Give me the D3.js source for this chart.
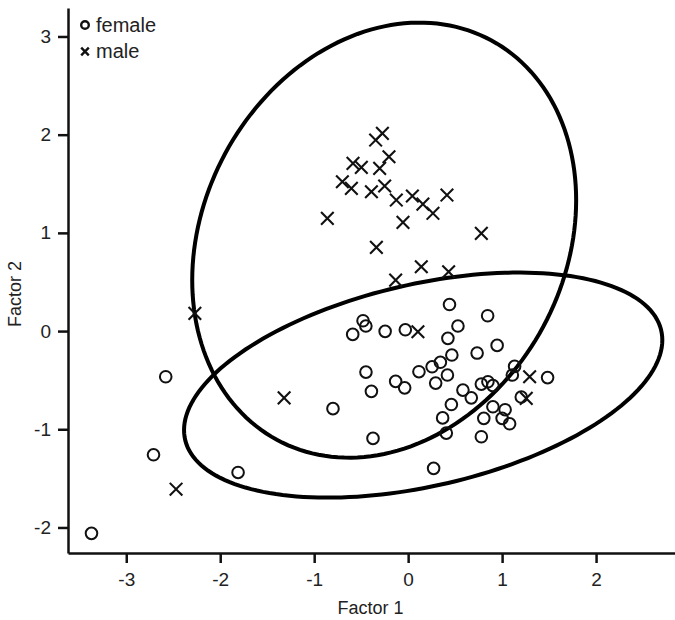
<!DOCTYPE html>
<html>
<head>
<meta charset="utf-8">
<script src="https://cdn.jsdelivr.net/npm/d3@7"></script>
<style>
  html, body { margin: 0; padding: 0; background: #fff; }
  svg { display: block; font-family: "Liberation Sans", Arial, sans-serif; }
  .tick text { font-size: 19px; font-family: "Liberation Sans", Arial, sans-serif; }
</style>
</head>
<body>
<svg id="chart" width="675" height="620"></svg>
<script>
// ---- data ----
const femaleX = [-3.37, -2.71, -2.58, -1.81, -0.80, -0.59, -0.48, -0.45, -0.245, -0.03,
  0.44, 0.846, 0.53, 0.423, 0.947, 0.734, 0.465, 0.343, 0.255, 0.115,
  -0.449, -0.391, -0.133, -0.037, 0.293, 0.418, 1.133, 1.109, 1.484, 0.779,
  0.849, 0.902, 0.583, 0.672, 1.204, 0.46, 0.367, 0.902, 0.805, 1.032,
  1.0, 1.08, -0.374, 0.406, 0.779, 0.271];
const femaleY = [-2.06, -1.26, -0.465, -1.44, -0.79, -0.034, 0.105, 0.051, -0.003, 0.013,
  0.27, 0.156, 0.051, -0.074, -0.146, -0.224, -0.244, -0.318, -0.364, -0.414,
  -0.418, -0.614, -0.512, -0.578, -0.53, -0.448, -0.36, -0.448, -0.474, -0.54,
  -0.516, -0.555, -0.601, -0.68, -0.672, -0.748, -0.884, -0.771, -0.889, -0.801,
  -0.889, -0.944, -1.093, -1.039, -1.076, -1.398];

const maleX = [-0.346, -0.274, -0.204, -0.587, -0.498, -0.303, -0.70, -0.604, -0.391, -0.25,
  -0.126, 0.045, 0.157, 0.264, 0.413, -0.86, -0.055, 0.779, -0.338, 0.14,
  0.431, -0.133, -2.27, -1.32, -2.47, 0.104, 1.293, 1.257];
const maleY = [1.945, 2.013, 1.775, 1.708, 1.667, 1.657, 1.52, 1.453, 1.419, 1.477,
  1.334, 1.375, 1.293, 1.199, 1.385, 1.148, 1.107, 0.995, 0.852, 0.655,
  0.604, 0.519, 0.18, -0.68, -1.61, -0.007, -0.465, -0.685];

// confidence ellipses: centre, half-extent in x and y, correlation
const ellipseGroup = ["male", "female"];
const ellipseCx = [-0.255, 0.16];
const ellipseCy = [0.926, -0.55];
const ellipseRx = [2.043, 2.545];
const ellipseRy = [2.215, 1.146];
const ellipseRho = [0.184, 0.40];

const xTicks = [-3, -2, -1, 0, 1, 2];
const yTicks = [-2, -1, 0, 1, 2, 3];
const legendLabels = ["female", "male"];
const xTitle = "Factor 1";
const yTitle = "Factor 2";

// ---- layout ----
const svg = d3.select("#chart");
const mLeft = 68, mRight = 675, mTop = 8, mBottom = 553;

const x = d3.scaleLinear().domain([-3.62, 2.84]).range([mLeft, mRight]);
const y = d3.scaleLinear().domain([-2.26, 3.29]).range([mBottom, mTop]);

// axes
const xAxis = d3.axisBottom(x).tickValues(xTicks).tickSize(10).tickSizeOuter(0).tickPadding(10);
const yAxis = d3.axisLeft(y).tickValues(yTicks).tickSize(10).tickSizeOuter(0).tickPadding(7);

const gx = svg.append("g").attr("transform", `translate(0,${mBottom})`).call(xAxis);
const gy = svg.append("g").attr("transform", `translate(${mLeft},0)`).call(yAxis);
[gx, gy].forEach(g => {
  g.attr("font-size", 19).attr("font-family", "'Liberation Sans', Arial, sans-serif");
  g.select(".domain").attr("stroke", "#111").attr("stroke-width", 2.5);
  g.selectAll(".tick line").attr("stroke", "#111").attr("stroke-width", 2.5);
  g.selectAll(".tick text").attr("fill", "#222").text(d => String(d));
});

// axis titles
svg.append("text").attr("x", (mLeft + mRight) / 2 - 1).attr("y", 614)
  .attr("text-anchor", "middle").attr("font-size", 18).attr("fill", "#222").text(xTitle);
svg.append("text").attr("transform", `translate(21,294) rotate(-90)`)
  .attr("text-anchor", "middle").attr("font-size", 18).attr("fill", "#222").text(yTitle);

// ellipses
const line = d3.line().x(d => x(d[0])).y(d => y(d[1])).curve(d3.curveLinearClosed);
ellipseGroup.forEach((g, i) => {
  const delta = Math.acos(ellipseRho[i]);
  const pts = d3.range(0, 360, 2).map(a => {
    const t = a * Math.PI / 180;
    return [ellipseCx[i] + ellipseRx[i] * Math.cos(t),
            ellipseCy[i] + ellipseRy[i] * Math.cos(t - delta)];
  });
  svg.append("path").attr("d", line(pts)).attr("fill", "none")
    .attr("stroke", "#000").attr("stroke-width", 4);
});

// female points
svg.append("g").selectAll("circle").data(d3.range(femaleX.length)).join("circle")
  .attr("cx", i => x(femaleX[i])).attr("cy", i => y(femaleY[i])).attr("r", 5.8)
  .attr("fill", "none").attr("stroke", "#111").attr("stroke-width", 2);

// male points
const s = 6.3;
svg.append("g").selectAll("path").data(d3.range(maleX.length)).join("path")
  .attr("d", i => {
    const cx = x(maleX[i]), cy = y(maleY[i]);
    return `M${cx - s},${cy - s}L${cx + s},${cy + s}M${cx - s},${cy + s}L${cx + s},${cy - s}`;
  })
  .attr("fill", "none").attr("stroke", "#111").attr("stroke-width", 2.1);

// legend
const leg = svg.append("g");
leg.append("circle").attr("cx", 85).attr("cy", 25).attr("r", 3.8)
  .attr("fill", "none").attr("stroke", "#111").attr("stroke-width", 2.4);
const ls = 3.8;
leg.append("path")
  .attr("d", `M${85 - ls},${51.5 - ls}L${85 + ls},${51.5 + ls}M${85 - ls},${51.5 + ls}L${85 + ls},${51.5 - ls}`)
  .attr("stroke", "#111").attr("stroke-width", 2.4);
legendLabels.forEach((lab, i) => {
  leg.append("text").attr("x", 96).attr("y", 32 + i * 26).attr("font-size", 20)
    .attr("fill", "#222").text(lab);
});
</script>
</body>
</html>
